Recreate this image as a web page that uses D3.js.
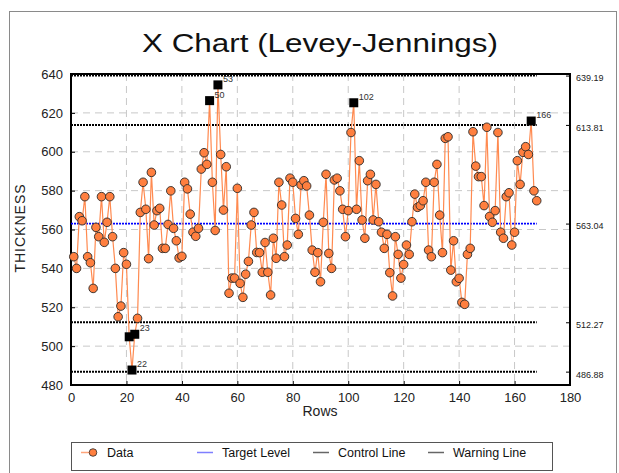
<!DOCTYPE html>
<html>
<head>
<meta charset="utf-8">
<script src="https://cdn.jsdelivr.net/npm/d3@7/dist/d3.min.js"></script>
<style>
  body { margin: 0; background: #fff; }
  svg text { font-family: "Liberation Sans", Arial, sans-serif; }
</style>
</head>
<body>
<div id="chart"></div>
<script>
// thickness readings, one per row (rows 1..168)
var values = [
  546, 540, 566.6, 564.5, 576.9, 546, 542.9, 529.7, 561.1, 556.3,
  576.9, 553.4, 563.7, 576.9, 556.3, 540, 515.1, 520.6, 548.1, 542.1,
  504.8, 487.7, 506.1, 514.3, 568.8, 584.3, 570.4, 545, 589.4, 562.3,
  569.7, 570.9, 550.3, 550.3, 562.6, 579.9, 560.6, 554.2, 545.4, 546.2,
  584.3, 580.9, 567.9, 558.6, 556.5, 560.6, 591.1, 599.5, 593.5, 626.3,
  584.3, 559.5, 634.4, 598.6, 570, 592.3, 527.2, 535, 535, 581.2,
  532.3, 525.1, 537, 543.6, 562.3, 568.8, 548.2, 548.1, 538, 553.3,
  538, 526.3, 555.5, 545.2, 584.3, 572.6, 546, 552, 586.4, 584.3,
  565.7, 557.5, 582.9, 585.1, 582.4, 567.4, 549.4, 538, 548.1, 533.1,
  563.7, 588.4, 547.7, 540, 585.5, 586.4, 579.9, 570.4, 556.3, 569.7,
  609.9, 625.2, 570.4, 595.4, 564.9, 555.5, 585.1, 588.4, 564.9, 583.2,
  564, 558.6, 550.3, 557.5, 537.8, 525.8, 556.3, 547.2, 535, 542,
  552, 547.2, 564, 578.2, 571.4, 572.3, 574.8, 584.3, 549.4, 546,
  584.3, 593.5, 567.4, 548.1, 606.9, 607.7, 539.1, 554.2, 533.1, 534.9,
  522.5, 521.5, 547.2, 550.3, 610.3, 592.6, 587.2, 587.2, 572.3, 612.6,
  566.7, 563.7, 569.7, 609.9, 558.6, 555.5, 576.9, 578.9, 552, 558.6,
  595.4, 583.2, 599.7, 602.6, 598.6, 615.8, 579.9, 574.8
];
var outOfControl = [21, 22, 23, 50, 53, 102, 166];
var labelledRows = [22, 23, 50, 53, 102, 166];

var targetLevel = 563.04;
var controlLimits = [639.19, 486.88];
var warningLimits = [613.81, 512.27];

var xTicks = [0, 20, 40, 60, 80, 100, 120, 140, 160, 180];
var yTicks = [480, 500, 520, 540, 560, 580, 600, 620, 640];
var legendItems = ["Data", "Target Level", "Control Line", "Warning Line"];

var W = 619, H = 473;
var svg = d3.select("#chart").append("svg")
  .attr("width", W).attr("height", H);

// outer frame
svg.append("rect").attr("x", 9.5).attr("y", 11.5)
  .attr("width", 607).attr("height", 480)
  .attr("fill", "none").attr("stroke", "#8a8a8a");

var x = d3.scaleLinear().domain([0, 180]).range([71, 570]);
var y = d3.scaleLinear().domain([480, 640]).range([385, 74]);

// the source renders the title wide; stretch it to the same span
svg.append("text").attr("x", 320).attr("y", 52)
  .attr("text-anchor", "middle").attr("font-size", 25.5).attr("fill", "#111")
  .attr("textLength", 356).attr("lengthAdjust", "spacingAndGlyphs")
  .text("X Chart (Levey-Jennings)");

// grid
var grid = svg.append("g").attr("stroke", "#c8c8c8").attr("stroke-width", 1)
  .attr("stroke-dasharray", "7,5");
grid.selectAll("line.gx").data(xTicks.slice(1, -1)).join("line")
  .attr("x1", function (d) { return x(d); }).attr("x2", function (d) { return x(d); })
  .attr("y1", y(640)).attr("y2", y(480));
grid.selectAll("line.gy").data(yTicks.slice(1, -1)).join("line")
  .attr("y1", function (d) { return y(d); }).attr("y2", function (d) { return y(d); })
  .attr("x1", x(0)).attr("x2", x(180));

// axes
var yAxis = d3.axisLeft(y).tickValues(yTicks).tickSize(-4).tickPadding(8);
var gy = svg.append("g").attr("transform", "translate(" + x(0) + ",0)").call(yAxis);
var xAxis = d3.axisBottom(x).tickValues(xTicks).tickSize(-4).tickPadding(8);
var gx = svg.append("g").attr("transform", "translate(0," + y(480) + ")").call(xAxis);
var rAxis = d3.axisRight(y)
  .tickValues([controlLimits[0], warningLimits[0], targetLevel, warningLimits[1], controlLimits[1]])
  .tickSize(-4).tickPadding(6).tickFormat(d3.format(".2f"));
var gr = svg.append("g").attr("transform", "translate(" + x(180) + ",0)").call(rAxis);
[gx, gy, gr].forEach(function (g) {
  g.select(".domain").remove();
  g.selectAll("line").attr("stroke", "#000");
  g.selectAll("text").attr("font-family", "Liberation Sans, Arial, sans-serif")
    .attr("fill", "#222");
});
gx.selectAll("text").attr("font-size", 13);
gy.selectAll("text").attr("font-size", 13);
gr.selectAll("text").attr("font-size", 9).attr("dy", "0.6em");

svg.append("rect").attr("x", x(0)).attr("y", y(640))
  .attr("width", x(180) - x(0)).attr("height", y(480) - y(640))
  .attr("fill", "none").attr("stroke", "#000").attr("stroke-width", 2);

// limit lines
var lastRow = values.length;
svg.selectAll("line.limit").data(controlLimits.concat(warningLimits)).join("line")
  .attr("class", "limit")
  .attr("x1", x(0)).attr("x2", x(lastRow))
  .attr("y1", function (d) { return y(d); }).attr("y2", function (d) { return y(d); })
  .attr("stroke", "#000").attr("stroke-width", 2).attr("stroke-dasharray", "2,1");
svg.append("line")
  .attr("x1", x(0)).attr("x2", x(lastRow))
  .attr("y1", y(targetLevel)).attr("y2", y(targetLevel))
  .attr("stroke", "#0000ff").attr("stroke-width", 1.6).attr("stroke-dasharray", "2,1");

// data
var pts = values.map(function (v, i) { return { row: i + 1, v: v }; });
var line = d3.line().x(function (d) { return x(d.row); }).y(function (d) { return y(d.v); });
svg.append("path").datum(pts).attr("d", line)
  .attr("fill", "none").attr("stroke", "#ff8a50").attr("stroke-width", 1.2);

svg.selectAll("circle.pt")
  .data(pts.filter(function (d) { return outOfControl.indexOf(d.row) < 0; }))
  .join("circle").attr("class", "pt")
  .attr("cx", function (d) { return x(d.row); }).attr("cy", function (d) { return y(d.v); })
  .attr("r", 4.3).attr("fill", "#ff7f3f").attr("stroke", "#2a2a2a").attr("stroke-width", 0.9);

svg.selectAll("rect.out")
  .data(pts.filter(function (d) { return outOfControl.indexOf(d.row) >= 0; }))
  .join("rect").attr("class", "out")
  .attr("x", function (d) { return x(d.row) - 4.5; }).attr("y", function (d) { return y(d.v) - 4.5; })
  .attr("width", 9).attr("height", 9).attr("fill", "#000");

svg.selectAll("text.lbl")
  .data(pts.filter(function (d) { return labelledRows.indexOf(d.row) >= 0; }))
  .join("text").attr("class", "lbl")
  .attr("x", function (d) { return x(d.row) + 5; }).attr("y", function (d) { return y(d.v) - 3; })
  .attr("font-size", 9).attr("fill", "#333")
  .text(function (d) { return d.row; });

// axis titles
svg.append("text").attr("x", 320).attr("y", 416).attr("text-anchor", "middle")
  .attr("font-size", 14).attr("fill", "#222").text("Rows");
svg.append("text").attr("transform", "translate(25,228) rotate(-90)")
  .attr("text-anchor", "middle").attr("font-size", 14).attr("letter-spacing", 1)
  .attr("fill", "#222").text("THICKNESS");

// legend
var lg = svg.append("g");
lg.append("rect").attr("x", 71.5).attr("y", 442.5).attr("width", 481).attr("height", 28)
  .attr("fill", "#fff").attr("stroke", "#555");
var lgX = [81, 197, 313, 428];
var lgColor = ["#ffa47a", "#7f7fff", "#666", "#666"];
legendItems.forEach(function (name, i) {
  var len = i === 0 ? 12 : 16;
  lg.append("line").attr("x1", lgX[i]).attr("x2", lgX[i] + len)
    .attr("y1", 452.5).attr("y2", 452.5).attr("stroke", lgColor[i]).attr("stroke-width", 1.5);
  if (i === 0) {
    lg.append("circle").attr("cx", lgX[i] + 12).attr("cy", 452.5).attr("r", 3.8)
      .attr("fill", "#ff7f3f").attr("stroke", "#2a2a2a").attr("stroke-width", 0.8);
  }
  lg.append("text").attr("x", lgX[i] + (i === 0 ? 26 : 25)).attr("y", 457)
    .attr("font-size", 12.5).attr("fill", "#111").text(name);
});
</script>
</body>
</html>
